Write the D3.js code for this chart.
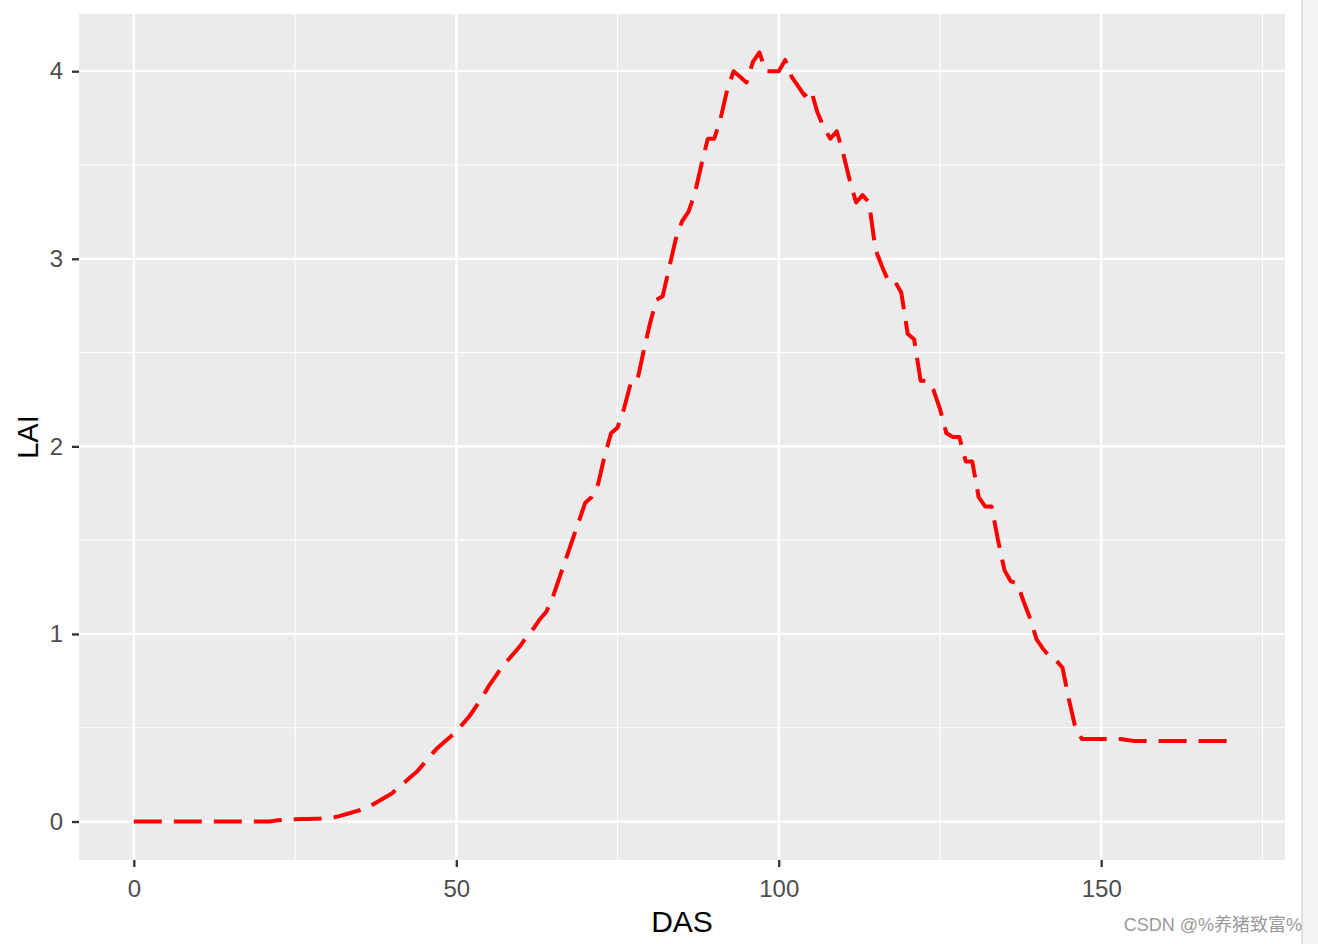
<!DOCTYPE html>
<html>
<head>
<meta charset="utf-8">
<script src="https://cdn.jsdelivr.net/npm/d3@7"></script>
<style>
  body { margin: 0; background: #fff; }
  svg { display: block; }
</style>
</head>
<body>
<div id="chart"></div>
<script>
// days after sowing
var das = d3.range(0, 171);

// LAI, one per day 0..170
var lai = [
  0, 0, 0, 0, 0, 0, 0, 0, 0, 0,
  0, 0, 0, 0, 0, 0, 0, 0, 0, 0,
  0, 0, 0.005, 0.008, 0.01, 0.012, 0.013, 0.014, 0.015, 0.016,
  0.018, 0.022, 0.03, 0.04, 0.05, 0.06, 0.075, 0.09, 0.11, 0.13,
  0.15, 0.18, 0.21, 0.24, 0.27, 0.31, 0.35, 0.39, 0.42, 0.45,
  0.48, 0.52, 0.56, 0.61, 0.66, 0.72, 0.77, 0.82, 0.86, 0.9,
  0.94, 0.99, 1.03, 1.08, 1.12, 1.2, 1.3, 1.4, 1.5, 1.6,
  1.7, 1.73, 1.8, 1.95, 2.07, 2.1, 2.2, 2.33, 2.34, 2.5,
  2.65, 2.78, 2.8, 2.95, 3.1, 3.2, 3.25, 3.35, 3.5, 3.64,
  3.64, 3.75, 3.9, 4.0, 3.97, 3.94, 4.05, 4.1, 4.0, 4.0,
  4.0, 4.06, 3.97, 3.92, 3.87, 3.9, 3.78, 3.7, 3.64, 3.68,
  3.56, 3.42, 3.3, 3.34, 3.3, 3.05, 2.96, 2.88, 2.88, 2.82,
  2.6, 2.57, 2.35, 2.35, 2.3, 2.2, 2.07, 2.05, 2.05, 1.92,
  1.92, 1.73, 1.68, 1.68, 1.5, 1.34, 1.28, 1.27, 1.17, 1.08,
  0.97, 0.92, 0.88, 0.86, 0.82, 0.65, 0.5, 0.44, 0.44, 0.44,
  0.44, 0.44, 0.44, 0.44, 0.435, 0.43, 0.43, 0.43, 0.43, 0.43,
  0.43, 0.43, 0.43, 0.43, 0.43, 0.43, 0.43, 0.43, 0.43, 0.43,
  0.43
];

var xTicks = [0, 50, 100, 150];
var xMinor = [25, 75, 125, 175];
var yTicks = [0, 1, 2, 3, 4];
var yMinor = [0.5, 1.5, 2.5, 3.5];

var W = 1318, H = 944;
var panel = { left: 79, top: 14, right: 1285, bottom: 860 };

var data = das.map(function (d, i) { return { x: d, y: lai[i] }; });

// ggplot style 5% expansion
var xr = d3.extent(das), yr = d3.extent(lai);
var xpad = (xr[1] - xr[0]) * 0.05, ypad = (yr[1] - yr[0]) * 0.05;
var x = d3.scaleLinear().domain([xr[0] - xpad, xr[1] + xpad]).range([panel.left, panel.right]);
var y = d3.scaleLinear().domain([yr[0] - ypad, yr[1] + ypad]).range([panel.bottom, panel.top]);

var svg = d3.select("#chart").append("svg")
    .attr("width", W)
    .attr("height", H)
    .style("font-family", "'Liberation Sans', Arial, sans-serif");

svg.append("rect")
    .attr("x", panel.left).attr("y", panel.top)
    .attr("width", panel.right - panel.left)
    .attr("height", panel.bottom - panel.top)
    .attr("fill", "#ebebeb");

// minor grid
svg.selectAll(".xminor").data(xMinor).enter().append("line")
    .attr("x1", function (d) { return x(d); }).attr("x2", function (d) { return x(d); })
    .attr("y1", panel.top).attr("y2", panel.bottom)
    .attr("stroke", "#fff").attr("stroke-width", 1.1);
svg.selectAll(".yminor").data(yMinor).enter().append("line")
    .attr("y1", function (d) { return y(d); }).attr("y2", function (d) { return y(d); })
    .attr("x1", panel.left).attr("x2", panel.right)
    .attr("stroke", "#fff").attr("stroke-width", 1.1);

// major grid
svg.selectAll(".xmajor").data(xTicks).enter().append("line")
    .attr("x1", function (d) { return x(d); }).attr("x2", function (d) { return x(d); })
    .attr("y1", panel.top).attr("y2", panel.bottom)
    .attr("stroke", "#fff").attr("stroke-width", 2.3);
svg.selectAll(".ymajor").data(yTicks).enter().append("line")
    .attr("y1", function (d) { return y(d); }).attr("y2", function (d) { return y(d); })
    .attr("x1", panel.left).attr("x2", panel.right)
    .attr("stroke", "#fff").attr("stroke-width", 2.3);

// the curve
var line = d3.line()
    .x(function (d) { return x(d.x); })
    .y(function (d) { return y(d.y); });

svg.append("path")
    .datum(data)
    .attr("d", line)
    .attr("fill", "none")
    .attr("stroke", "#ff0000")
    .attr("stroke-width", 4)
    .attr("stroke-dasharray", "28,12")
    .attr("stroke-linejoin", "round");

// axes
var xAxis = svg.append("g")
    .attr("transform", "translate(0," + panel.bottom + ")")
    .call(d3.axisBottom(x).tickValues(xTicks).tickFormat(d3.format("d")).tickSize(7).tickPadding(13));
var yAxis = svg.append("g")
    .attr("transform", "translate(" + panel.left + ",0)")
    .call(d3.axisLeft(y).tickValues(yTicks).tickFormat(d3.format("d")).tickSize(7).tickPadding(9));

[xAxis, yAxis].forEach(function (g) {
    g.select(".domain").remove();
    g.selectAll(".tick line").attr("stroke", "#333").attr("stroke-width", 2.3);
    g.selectAll(".tick text")
        .attr("fill", "#4d4d4d")
        .style("font-size", "24px")
        .style("font-family", "'Liberation Sans', Arial, sans-serif");
});

// titles
svg.append("text")
    .attr("x", (panel.left + panel.right) / 2)
    .attr("y", 932)
    .attr("text-anchor", "middle")
    .style("font-size", "30px")
    .attr("fill", "#000")
    .text("DAS");

svg.append("text")
    .attr("transform", "translate(38," + ((panel.top + panel.bottom) / 2) + ") rotate(-90)")
    .attr("text-anchor", "middle")
    .style("font-size", "29px")
    .attr("fill", "#000")
    .text("LAI");

// right edge strip and watermark
svg.append("rect")
    .attr("x", 1302).attr("y", 0).attr("width", 16).attr("height", H)
    .attr("fill", "#f4f4f4");
svg.append("line")
    .attr("x1", 1302).attr("x2", 1302).attr("y1", 0).attr("y2", H)
    .attr("stroke", "#d9d9d9").attr("stroke-width", 1.5);

svg.append("text")
    .attr("x", 1302)
    .attr("y", 931)
    .attr("text-anchor", "end")
    .style("font-size", "18px")
    .style("font-family", "'Liberation Sans', 'Noto Sans CJK SC', sans-serif")
    .attr("fill", "#9a9a9a")
    .text("CSDN @%养猪致富%");
</script>
</body>
</html>
